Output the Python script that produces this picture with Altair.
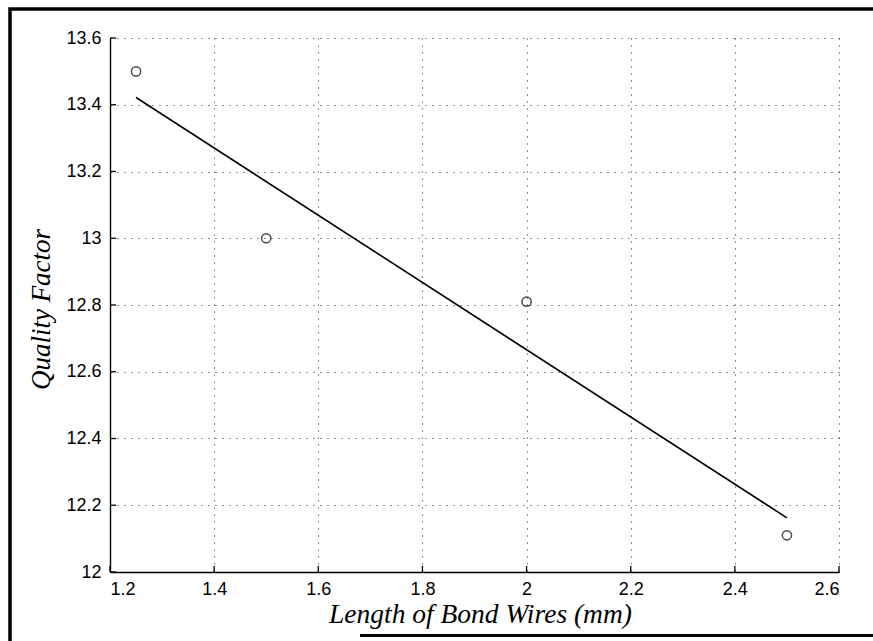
import altair as alt
import pandas as pd

# Measured quality factor against bond-wire length
wire_length_mm = [1.25, 1.5, 2.0, 2.5]
quality_factor = [13.5, 13.0, 12.81, 12.11]

# Axis tick positions
x_tick_values = [1.2, 1.4, 1.6, 1.8, 2.0, 2.2, 2.4, 2.6]
y_tick_values = [12.0, 12.2, 12.4, 12.6, 12.8, 13.0, 13.2, 13.4, 13.6]

W, H = 729, 534

df = pd.DataFrame({"length": wire_length_mm, "q": quality_factor})
xt = pd.DataFrame({"length": x_tick_values})
yt = pd.DataFrame({"q": y_tick_values})

x_scale = alt.Scale(domain=[1.2, 2.6], nice=False, zero=False)
y_scale = alt.Scale(domain=[12.0, 13.6], nice=False, zero=False)

label_font = "Liberation Sans"
title_font = "Liberation Serif"

x_axis = alt.Axis(
    values=x_tick_values, format="~g", title="Length of Bond Wires (mm)",
    grid=True, gridDash=[1, 6], gridColor="#222", gridWidth=1,
    ticks=False, domainColor="black", domainWidth=1.4,
    labelFont=label_font, labelFontSize=18, labelColor="black", labelPadding=8,
    titleFont=title_font, titleFontSize=27.5, titleFontStyle="italic",
    titleFontWeight="normal", titleColor="black",
    titleX=370, titleY=50, titleBaseline="alphabetic", titleAnchor="middle",
)
y_axis = alt.Axis(
    values=y_tick_values, format="~g", title="Quality Factor",
    grid=True, gridDash=[1, 6], gridColor="#222", gridWidth=1,
    ticks=False, domainColor="black", domainWidth=1.4,
    labelFont=label_font, labelFontSize=18, labelColor="black", labelPadding=9,
    titleFont=title_font, titleFontSize=27, titleFontStyle="italic",
    titleFontWeight="normal", titleColor="black",
    titleX=-61, titleY=H / 2 + 4, titleAngle=270, titleBaseline="alphabetic",
    titleAlign="center",
)

X = alt.X("length:Q", scale=x_scale, axis=x_axis)
Y = alt.Y("q:Q", scale=y_scale, axis=y_axis)

points = alt.Chart(df).mark_point(
    shape="circle", filled=False, color="black", size=85, strokeWidth=1.5
).encode(x=X, y=Y)

fit = alt.Chart(df).transform_regression("length", "q").mark_line(
    color="black", strokeWidth=1.6
).encode(x=X, y=Y)

# Inward-pointing ticks on the left and bottom axes
y_ticks = alt.Chart(yt).mark_rule(color="black", strokeWidth=1.3).encode(
    y=Y, x=alt.value(0), x2=alt.value(6),
)
x_ticks = alt.Chart(xt).mark_rule(color="black", strokeWidth=1.3).encode(
    x=X, y=alt.value(H), y2=alt.value(H - 6),
)

# Page frame: an outlined box whose right and bottom sides fall outside the
# page, leaving the top and left edges, plus a partial bottom edge
frame_box = alt.Chart(pd.DataFrame({"box": [0]})).mark_rect(
    filled=False, stroke="black", strokeWidth=3.5, fill=None
).encode(
    x=alt.value(-100), x2=alt.value(820), y=alt.value(-29), y2=alt.value(700)
)
frame_bottom = alt.Chart(pd.DataFrame({"bottom": [0]})).mark_rect(color="black").encode(
    x=alt.value(250), x2=alt.value(763), y=alt.value(596), y2=alt.value(599)
)

chart = alt.layer(
    points, fit, y_ticks, x_ticks, frame_box, frame_bottom
).properties(
    width=W, height=H,
    padding={"left": 110, "top": 38, "right": 34, "bottom": 69},
    autosize=alt.AutoSizeParams(type="none"),
    background="white",
).configure_view(stroke=None)

chart.save("out.html", embed_options={"renderer": "svg", "actions": False})
